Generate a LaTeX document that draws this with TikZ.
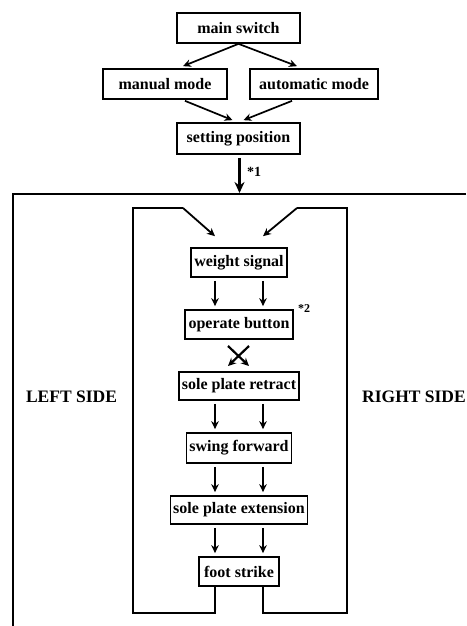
\documentclass[tikz,border=0pt]{standalone}
\usepackage{fontspec}
\setmainfont{Liberation Serif}
\usetikzlibrary{arrows.meta}
\begin{document}
\begin{tikzpicture}[x=1pt,y=-1pt,
  box/.style={draw, line width=1.7pt, minimum height=29pt, inner sep=0pt, font=\bfseries\fontsize{16}{16}\selectfont},
  conn/.style={line width=1.7pt, -{Stealth[length=8pt,width=7.5pt]}},
  loopline/.style={line width=1.8pt},
  side/.style={font=\bfseries\fontsize{17.5}{17.5}\selectfont, inner sep=0pt}]
\useasboundingbox (0,0) rectangle (466,626);
% top part
\node[box, minimum width=123pt, minimum height=30pt] (ms) at (238.5,28) {main switch};
\node[box, minimum width=124pt, minimum height=30pt] (mm) at (165,84) {manual mode};
\node[box, minimum width=128pt, minimum height=30pt] (am) at (314,84) {automatic mode};
\node[box, minimum width=123pt, minimum height=31pt] (sp) at (238.5,138.5) {setting position};
\draw[conn] (ms.south) -- ([xshift=18pt,yshift=2pt]mm.north);
\draw[conn] (ms.south) -- ([xshift=-17pt,yshift=2pt]am.north);
\draw[conn] ([xshift=20pt,yshift=-1pt]mm.south) -- ([xshift=-6pt,yshift=2pt]sp.north);
\draw[conn] ([xshift=-22pt,yshift=-1pt]am.south) -- ([xshift=5pt,yshift=2pt]sp.north);
% *1 arrow
\coordinate (a1) at (239.5,193);
\draw[line width=3.2pt, -{Stealth[length=11pt,width=10pt]}] ([xshift=1pt,yshift=-3pt]sp.south) -- (a1);
\node[font=\bfseries\fontsize{14}{14}\selectfont, inner sep=0pt] (l1) at (254,172) {*1};
% outer frame
\coordinate (fr) at (466,194);
\coordinate (fc) at (13,194);
\coordinate (fb) at (13,626);
\draw[line width=2pt] (fr) -- (fc) -- (fb);
% side labels
\node[side] (ls) at (71.5,397) {LEFT SIDE};
\node[side, anchor=west] (rs) at (362,397) {RIGHT SIDE};
% column
\node[box, minimum width=96pt] (ws) at (239,262.5) {weight signal};
\node[box, minimum width=108pt] (ob) at (239,324.5) {operate button};
\node[box, minimum width=120pt, minimum height=28pt] (sr) at (239,386) {sole plate retract};
\node[box, minimum width=105pt, minimum height=30pt] (sf) at (239,448) {swing forward};
\node[box, minimum width=137pt, minimum height=28pt] (se) at (239,510) {sole plate extension};
\node[box, minimum width=80pt] (fs) at (239,571.5) {foot strike};
\node[font=\bfseries\fontsize{12}{12}\selectfont, inner sep=0pt] (l2) at (304,309) {*2};
% vertical pairs
\foreach \a/\b in {ws/ob, sr/sf, sf/se, se/fs} {
  \draw[conn] ([xshift=-24pt,yshift=-3pt]\a.south) -- ([xshift=-24pt,yshift=3pt]\b.north);
  \draw[conn] ([xshift=24pt,yshift=-3pt]\a.south) -- ([xshift=24pt,yshift=3pt]\b.north);
}
% crossed arrows
\coordinate (x1) at (228,346);
\coordinate (x2) at (249,366);
\coordinate (x3) at (249,346);
\coordinate (x4) at (228,366);
\draw[conn, line width=2.2pt] (x1) -- (x2);
\draw[conn, line width=2.2pt] (x3) -- (x4);
% loops
\coordinate (lb1) at (215,613);
\coordinate (lb2) at (133,613);
\coordinate (lt1) at (133,208);
\coordinate (lt2) at (183,208);
\coordinate (rb1) at (263,613);
\coordinate (rb2) at (347,613);
\coordinate (rt1) at (347,208);
\coordinate (rt2) at (297,208);
\draw[loopline] ([xshift=-24pt]fs.south) -- (lb1) -- (lb2) -- (lt1) -- (lt2);
\draw[conn, line width=1.8pt] (lt2) -- ([xshift=-24pt,yshift=11pt]ws.north);
\draw[loopline] ([xshift=24pt]fs.south) -- (rb1) -- (rb2) -- (rt1) -- (rt2);
\draw[conn, line width=1.8pt] (rt2) -- ([xshift=24pt,yshift=11pt]ws.north);
\end{tikzpicture}
\end{document}
